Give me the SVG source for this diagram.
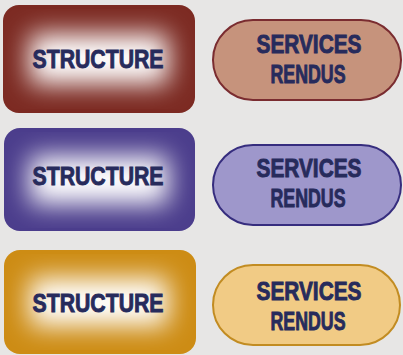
<svg xmlns="http://www.w3.org/2000/svg" width="403" height="355" viewBox="0 0 403 355">
<defs>
<style>
.t{font-family:"Liberation Sans",Arial,sans-serif;font-weight:bold;font-size:25px;fill:#272b5c;stroke:#272b5c;stroke-width:0.9px;text-anchor:middle}
</style>
<filter id="blur" x="-50%" y="-50%" width="200%" height="200%"><feGaussianBlur stdDeviation="13"/></filter>
<clipPath id="c1"><rect x="3" y="5" width="192" height="108" rx="16"/></clipPath>
<clipPath id="c2"><rect x="4" y="128" width="191" height="103" rx="16"/></clipPath>
<clipPath id="c3"><rect x="4" y="250" width="192" height="104" rx="16"/></clipPath>
</defs>
<rect width="403" height="355" fill="#e7e6e5"/>
<g id="structure1">
<g clip-path="url(#c1)">
<rect x="3" y="5" width="192" height="108" fill="#7c2a22"/>
<rect x="30" y="34" width="138" height="50" fill="#fff" filter="url(#blur)"/>
</g>
<text class="t" x="98" y="68" textLength="131" lengthAdjust="spacingAndGlyphs">STRUCTURE</text>
</g>
<g id="services1">
<rect x="213" y="20" width="188" height="80" rx="40" fill="#c6937c" stroke="#7a2c30" stroke-width="2"/>
<text class="t" x="309" y="53" textLength="105" lengthAdjust="spacingAndGlyphs">SERVICES</text>
<text class="t" x="308" y="83" textLength="75" lengthAdjust="spacingAndGlyphs">RENDUS</text>
</g>
<g id="structure2">
<g clip-path="url(#c2)">
<rect x="4" y="128" width="191" height="103" fill="#4b3d8c"/>
<rect x="30" y="156" width="138" height="48" fill="#fff" filter="url(#blur)"/>
</g>
<text class="t" x="98" y="185" textLength="131" lengthAdjust="spacingAndGlyphs">STRUCTURE</text>
</g>
<g id="services2">
<rect x="213" y="145" width="188" height="80" rx="40" fill="#9e97cb" stroke="#362d7e" stroke-width="2"/>
<text class="t" x="309" y="177" textLength="105" lengthAdjust="spacingAndGlyphs">SERVICES</text>
<text class="t" x="308" y="207" textLength="75" lengthAdjust="spacingAndGlyphs">RENDUS</text>
</g>
<g id="structure3">
<g clip-path="url(#c3)">
<rect x="4" y="250" width="192" height="104" fill="#cd8c14"/>
<rect x="30" y="278" width="138" height="48" fill="#fff" filter="url(#blur)"/>
</g>
<text class="t" x="98" y="312" textLength="131" lengthAdjust="spacingAndGlyphs">STRUCTURE</text>
</g>
<g id="services3">
<rect x="213" y="265" width="187" height="80" rx="40" fill="#f1cb85" stroke="#c28c22" stroke-width="2"/>
<text class="t" x="309" y="300" textLength="105" lengthAdjust="spacingAndGlyphs">SERVICES</text>
<text class="t" x="308" y="330" textLength="75" lengthAdjust="spacingAndGlyphs">RENDUS</text>
</g>
<g id="connectors"/>
</svg>
